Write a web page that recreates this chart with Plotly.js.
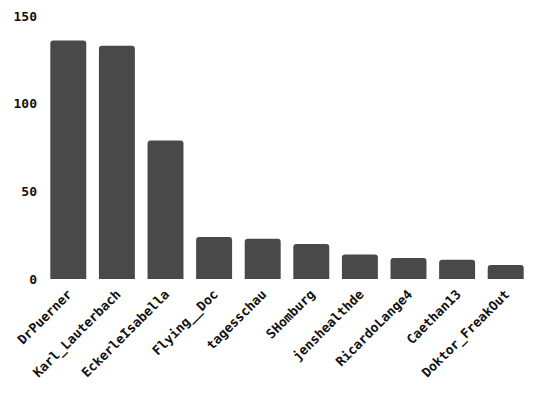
<!DOCTYPE html>
<html>
<head>
<meta charset="utf-8">
<script src="https://cdn.plot.ly/plotly-3.0.1.min.js"></script>
<style>
  html, body { margin: 0; padding: 0; background: #fff; }
  #chart { width: 538px; height: 393px; }
</style>
</head>
<body>
<div id="chart"></div>
<script>
// accounts and their counts
const accounts = ['DrPuerner', 'Karl_Lauterbach', 'EckerleIsabella', 'Flying__Doc', 'tagesschau',
                  'SHomburg', 'jenshealthde', 'RicardoLange4', 'Caethan13', 'Doktor_FreakOut'];
const counts = [136, 133, 79, 24, 23, 20, 14, 12, 11, 8];

const yTicks = [0, 50, 100, 150];

const tickFont = { family: 'DejaVu Sans Mono', size: 13, weight: 'bold', color: '#111' };

const data = [{
    type: 'bar',
    x: accounts,
    y: counts,
    marker: { color: '#494949', cornerradius: 3 },
    hoverinfo: 'x+y'
}];

const layout = {
    width: 538,
    height: 393,
    margin: { l: 44, r: 8, t: 16, b: 114 },
    paper_bgcolor: '#fff',
    plot_bgcolor: '#fff',
    bargap: 0.26,
    showlegend: false,
    xaxis: {
        tickangle: -45,
        showgrid: false,
        zeroline: false,
        showline: false,
        ticklabelstandoff: 4,
        tickfont: tickFont
    },
    yaxis: {
        range: [0, 150],
        tickvals: yTicks,
        showgrid: false,
        zeroline: false,
        showline: false,
        ticklabelstandoff: 6,
        tickfont: tickFont
    }
};

Plotly.newPlot('chart', data, layout, { displayModeBar: false, staticPlot: true });
</script>
</body>
</html>
